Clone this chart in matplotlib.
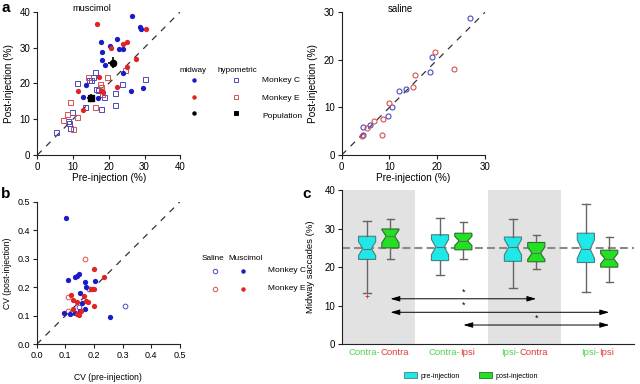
import numpy as np
import matplotlib
matplotlib.use('Agg')
import matplotlib.pyplot as plt
from matplotlib.lines import Line2D
from matplotlib.patches import Patch
import matplotlib.transforms as mtransforms

plt.rcParams['font.family'] = ['Liberation Sans', 'DejaVu Sans']
plt.rcParams['axes.linewidth'] = 0.8
plt.rcParams['axes.edgecolor'] = '#222222'

# ---- panel a, muscimol (pre vs post, %)
mid_c_x = [26.5, 28.8, 29.1, 22.2, 17.8, 20.4, 22.8, 24.0, 18.1, 18.0, 19.0, 23.9, 13.6, 12.9, 17.1, 26.3, 29.7]
mid_c_y = [38.7, 35.6, 35.1, 32.3, 31.6, 30.4, 29.6, 29.5, 28.7, 26.5, 25.0, 22.9, 19.6, 16.3, 15.8, 17.8, 18.6]
mid_e_x = [16.6, 20.6, 24.1, 25.2, 30.4, 27.7, 25.0, 11.3, 17.3, 17.9, 18.5, 22.2, 12.9]
mid_e_y = [36.6, 30.0, 31.0, 31.5, 35.2, 26.7, 24.5, 17.9, 21.7, 17.9, 17.6, 19.1, 12.7]
hyp_c_x = [16.2, 15.5, 14.95, 14.4, 11.0, 17.1, 18.7, 17.9, 21.8, 21.8, 23.7, 30.2, 13.4, 9.7, 8.6, 8.8, 9.2, 5.2, 16.5]
hyp_c_y = [23.3, 21.9, 20.9, 20.9, 20.0, 18.1, 16.3, 12.8, 17.4, 14.0, 19.9, 21.1, 13.3, 11.9, 9.6, 8.8, 7.6, 6.5, 18.5]
hyp_e_x = [14.3, 19.6, 17.6, 17.8, 16.2, 9.2, 8.2, 11.0, 7.1, 9.9, 24.5, 18.0]
hyp_e_y = [21.9, 21.9, 19.8, 18.9, 13.3, 14.7, 11.5, 10.7, 9.8, 7.2, 23.8, 17.0]
pop_mid = [21.1, 25.8]
pop_mid_err = [1.2, 1.5]
pop_hyp = [15.0, 15.9]
pop_hyp_err = [1.0, 1.1]

# ---- panel a, saline
sal_c_x = [26.9, 18.9, 18.4, 11.9, 13.4, 10.5, 9.6, 5.9, 4.4, 4.5]
sal_c_y = [28.7, 20.7, 17.4, 13.5, 13.9, 10.0, 8.3, 6.3, 5.9, 4.3]
sal_e_x = [19.5, 15.4, 23.6, 14.9, 9.8, 8.7, 6.7, 5.4, 8.4, 4.2]
sal_e_y = [21.6, 16.9, 18.0, 14.2, 10.9, 7.6, 7.1, 5.7, 4.3, 4.0]

# ---- panel b, CV
cv_mus_c_x = [0.102, 0.110, 0.135, 0.142, 0.149, 0.167, 0.151, 0.172, 0.203, 0.159, 0.170, 0.151, 0.134, 0.095, 0.256, 0.116]
cv_mus_c_y = [0.444, 0.225, 0.235, 0.240, 0.246, 0.217, 0.179, 0.202, 0.222, 0.146, 0.123, 0.117, 0.111, 0.111, 0.097, 0.106]
cv_mus_e_x = [0.201, 0.236, 0.194, 0.201, 0.121, 0.126, 0.142, 0.166, 0.171, 0.178, 0.201, 0.128, 0.142, 0.148, 0.155, 0.188]
cv_mus_e_y = [0.264, 0.235, 0.195, 0.195, 0.172, 0.155, 0.147, 0.171, 0.152, 0.150, 0.134, 0.123, 0.106, 0.103, 0.117, 0.194]
cv_sal_c_x = [0.309, 0.149, 0.120, 0.181]
cv_sal_c_y = [0.136, 0.132, 0.109, 0.193]
cv_sal_e_x = [0.167, 0.109, 0.110]
cv_sal_e_y = [0.298, 0.167, 0.117]

# ---- panel c, midway saccades (%)
groups_first = ['Contra', 'Contra', 'Ipsi', 'Ipsi']
groups_second = ['Contra', 'Ipsi', 'Contra', 'Ipsi']
pre_hi = [31.9, 32.7, 32.5, 36.3]
pre_q3 = [28.0, 28.4, 27.8, 28.8]
pre_med = [24.8, 25.2, 25.2, 24.7]
pre_q1 = [22.0, 21.7, 21.5, 21.2]
pre_lo = [13.2, 18.0, 14.5, 13.5]
pre_ci = [1.8, 2.0, 2.0, 2.4]
pre_fliers = [[12.4], [], [], []]
post_hi = [32.4, 31.8, 28.4, 27.7]
post_q3 = [29.9, 28.8, 26.4, 24.4]
post_med = [28.0, 26.8, 23.6, 22.2]
post_q1 = [25.0, 24.5, 21.4, 20.0]
post_lo = [22.2, 22.2, 19.6, 16.2]
post_ci = [1.7, 1.2, 1.6, 1.35]
cmp_from = [1, 1, 2]
cmp_to = [3, 4, 4]
cmp_y = [11.8, 8.3, 5.0]
star_group = [2, 2, 3]

BLUE = '#1a1ac8'
RED = '#e02424'
BLUE_O = '#4a4ac4'
RED_O = '#d85050'
CYAN = '#1ee8e8'
GREEN = '#22e022'
TXT_G = '#4fd24f'
TXT_R = '#e03a3a'

W, H = 640, 384
def fx(x):
    return x / W
def fy(y):
    return 1 - y / H

fig = plt.figure(figsize=(6.4, 3.84), dpi=100)

def style(ax, size=7):
    ax.spines['top'].set_visible(False)
    ax.spines['right'].set_visible(False)
    ax.tick_params(direction='out', length=3, width=0.8, labelsize=size, pad=2, color='#222222')

# ===== a: muscimol
axA = fig.add_axes([fx(37.3), fy(155), 143 / W, 143.3 / H])
style(axA)
axA.plot([0, 40], [0, 40], color='#333333', lw=0.9, ls=(0, (5, 5)), zorder=1)
axA.plot(hyp_c_x, hyp_c_y, 's', mfc='none', mec=BLUE_O, ms=3.6, mew=0.7, zorder=2)
axA.plot(hyp_e_x, hyp_e_y, 's', mfc='none', mec=RED_O, ms=3.6, mew=0.7, zorder=2)
axA.plot(mid_c_x, mid_c_y, 'o', color=BLUE, ms=3.8, mec='none', zorder=3)
axA.plot(mid_e_x, mid_e_y, 'o', color=RED, ms=3.8, mec='none', zorder=3)
axA.errorbar([pop_mid[0]], [pop_mid[1]], xerr=[pop_mid_err[0]], yerr=[pop_mid_err[1]],
             fmt='o', color='k', ms=4.5, elinewidth=1.2, capsize=0, zorder=4)
axA.errorbar([pop_hyp[0]], [pop_hyp[1]], xerr=[pop_hyp_err[0]], yerr=[pop_hyp_err[1]],
             fmt='s', color='k', ms=4.5, elinewidth=1.2, capsize=0, zorder=4)
axA.set_xlim(0, 40)
axA.set_ylim(0, 40)
axA.set_xticks([0, 10, 20, 30, 40])
axA.set_yticks([0, 10, 20, 30, 40])
axA.set_xlabel('Pre-injection (%)', fontsize=7.2, labelpad=1)
axA.set_ylabel('Post-injection (%)', fontsize=7.2, labelpad=4)
axA.text(0.38, 1.025, 'muscimol', transform=axA.transAxes, ha='center', va='center', fontsize=6.6)

# legend a
fig.text(fx(193), fy(70), 'midway', ha='center', va='center', fontsize=5.8)
fig.text(fx(237), fy(70), 'hypometric', ha='center', va='center', fontsize=5.9)
for col, mk, mfc in [(194, 'o', True), (236, 's', False)]:
    for row, c in zip([80, 97, 113], [BLUE, RED, 'k']):
        if c != 'k' and not mfc:
            c = BLUE_O if c == BLUE else RED_O
        fig.add_artist(Line2D([fx(col)], [fy(row)], transform=fig.transFigure, marker=mk,
                              ms=3.2 if mk == 'o' else 3.4,
                              mfc=c if (mfc or c == 'k') else 'none', mec=c if not mfc else 'none', mew=0.7))
for row, lab in zip([81, 98, 116], ['Monkey C', 'Monkey E', 'Population']):
    fig.text(fx(262), fy(row), lab, ha='left', va='center', fontsize=6)

# ===== a: saline
axS = fig.add_axes([fx(341.7), fy(155), 143.3 / W, 142.7 / H])
style(axS)
axS.plot([0, 30], [0, 30], color='#333333', lw=0.9, ls=(0, (5, 5)), zorder=1)
axS.plot(sal_c_x, sal_c_y, 'o', mfc='none', mec=BLUE_O, ms=3.6, mew=0.8, zorder=2)
axS.plot(sal_e_x, sal_e_y, 'o', mfc='none', mec=RED_O, ms=3.6, mew=0.8, zorder=2)
axS.set_xlim(0, 30)
axS.set_ylim(0, 30)
axS.set_xticks([0, 10, 20, 30])
axS.set_yticks([0, 10, 20, 30])
axS.set_xlabel('Pre-injection (%)', fontsize=7.2, labelpad=1)
axS.set_ylabel('Post-injection (%)', fontsize=7.2, labelpad=4)
axS.text(0.41, 1.02, 'saline', transform=axS.transAxes, ha='center', va='center', fontsize=6.9)

# ===== b: CV
axB = fig.add_axes([fx(36.7), fy(344.3), 143.3 / W, 142.6 / H])
style(axB, 6.5)
axB.plot([0, 0.5], [0, 0.5], color='#333333', lw=0.9, ls=(0, (5, 5)), zorder=1)
axB.plot(cv_sal_c_x, cv_sal_c_y, 'o', mfc='none', mec=BLUE_O, ms=3.4, mew=0.7, zorder=2)
axB.plot(cv_sal_e_x, cv_sal_e_y, 'o', mfc='none', mec=RED_O, ms=3.4, mew=0.7, zorder=2)
axB.plot(cv_mus_c_x, cv_mus_c_y, 'o', color=BLUE, ms=3.8, mec='none', zorder=3)
axB.plot(cv_mus_e_x, cv_mus_e_y, 'o', color=RED, ms=3.8, mec='none', zorder=3)
axB.set_xlim(0, 0.5)
axB.set_ylim(0, 0.5)
axB.set_xticks([0, 0.1, 0.2, 0.3, 0.4, 0.5])
axB.set_yticks([0, 0.1, 0.2, 0.3, 0.4, 0.5])
axB.xaxis.set_major_formatter('{x:.1f}')
axB.yaxis.set_major_formatter('{x:.1f}')
axB.set_xlabel('CV (pre-injection)', fontsize=6.2, labelpad=9)
axB.set_ylabel('CV (post-injection)', fontsize=6.2, labelpad=4)

# legend b
fig.text(fx(212.7), fy(259), 'Saline', ha='center', va='center', fontsize=5.9)
fig.text(fx(245.7), fy(259), 'Muscimol', ha='center', va='center', fontsize=5.9)
for row, c, co in [(271, BLUE, BLUE_O), (289, RED, RED_O)]:
    fig.add_artist(Line2D([fx(215)], [fy(row)], transform=fig.transFigure, marker='o', ms=3.2,
                          mfc='none', mec=co, mew=0.7))
    fig.add_artist(Line2D([fx(243.3)], [fy(row)], transform=fig.transFigure, marker='o', ms=3.2,
                          mfc=c, mec='none'))
for row, lab in zip([271, 289], ['Monkey C', 'Monkey E']):
    fig.text(fx(267.7), fy(row), lab, ha='left', va='center', fontsize=6)

# ===== c: boxplots
axC = fig.add_axes([fx(342.3), fy(344.3), 291.7 / W, 154.3 / H])
style(axC)
axC.spines['bottom'].set_color('#222222')
ng = len(pre_med)
pos = np.arange(1, ng + 1)
off = 0.16
for g in pos[::2]:
    axC.axvspan(g - 0.5, g + 0.5, color='#e2e2e2', lw=0, zorder=0)
axC.axhline(25, color='#8a8a8a', lw=1.5, ls=(0, (3.8, 2)), zorder=1)

def stats(hi, q3, med, q1, lo, ci, fl):
    return [dict(med=med[i], q1=q1[i], q3=q3[i], whislo=lo[i], whishi=hi[i],
                 cilo=med[i] - ci[i], cihi=med[i] + ci[i], fliers=fl[i]) for i in range(len(med))]

common = dict(widths=0.235, shownotches=True, patch_artist=True, manage_ticks=False,
              whiskerprops=dict(color='#666666', lw=1.0), capprops=dict(color='#666666', lw=1.0),
              medianprops=dict(color='#6a6a6a', lw=0.8),
              flierprops=dict(marker='+', markeredgecolor=RED, ms=3, mew=0.6),
              capwidths=0.1, zorder=2)
axC.bxp(stats(pre_hi, pre_q3, pre_med, pre_q1, pre_lo, pre_ci, pre_fliers), positions=pos - off,
        boxprops=dict(facecolor=CYAN, edgecolor='#4a7f7f', lw=0.8), **common)
axC.bxp(stats(post_hi, post_q3, post_med, post_q1, post_lo, post_ci, [[]] * ng), positions=pos + off,
        boxprops=dict(facecolor=GREEN, edgecolor='#2e6e2e', lw=0.8), **common)

for a, b, y, s in zip(cmp_from, cmp_to, cmp_y, star_group):
    axC.annotate('', xy=(b + off, y), xytext=(a + off, y),
                 arrowprops=dict(arrowstyle='<|-|>,head_length=0.55,head_width=0.16', color='k',
                                 lw=0.7, shrinkA=0, shrinkB=0, mutation_scale=10))
    axC.text(s + off, y + 0.6, '*', ha='center', va='bottom', fontsize=6.5)

axC.set_xlim(0.5, ng + 0.5)
axC.set_ylim(0, 40)
axC.set_xticks([])
axC.set_yticks([0, 10, 20, 30, 40])
axC.set_ylabel('Midway saccades (%)', fontsize=6.8, labelpad=7)

# two-colour group labels
fig.canvas.draw()
rend = fig.canvas.get_renderer()
base = mtransforms.blended_transform_factory(axC.transData, axC.transAxes)
for g, a, b in zip(pos, groups_first, groups_second):
    t1 = axC.text(g, -0.052, a + '-', color=TXT_G, fontsize=6.8, ha='left', va='center', transform=base)
    t2 = axC.text(g, -0.052, b, color=TXT_R, fontsize=6.8, ha='left', va='center', transform=base)
    w1 = t1.get_window_extent(rend).width
    w2 = t2.get_window_extent(rend).width
    t1.set_transform(mtransforms.offset_copy(base, fig=fig, x=-(w1 + w2) / 2, y=0, units='dots'))
    t2.set_transform(mtransforms.offset_copy(base, fig=fig, x=w1 - (w1 + w2) / 2, y=0, units='dots'))

fig.legend(handles=[Patch(facecolor=CYAN, edgecolor='#4a7f7f', lw=0.6, label='pre-injection'),
                    Patch(facecolor=GREEN, edgecolor='#2e6e2e', lw=0.6, label='post-injection')],
           loc='center', bbox_to_anchor=(fx(471), fy(376)), ncol=2, frameon=False, fontsize=5.2,
           handlelength=1.8, handleheight=0.8, handletextpad=0.5, columnspacing=2.6)

# panel letters
fig.text(fx(6), fy(8), 'a', fontsize=11, fontweight='bold', ha='center', va='center')
fig.text(fx(6), fy(194), 'b', fontsize=11, fontweight='bold', ha='center', va='center')
fig.text(fx(307), fy(194), 'c', fontsize=11, fontweight='bold', ha='center', va='center')

fig.savefig('out.png', dpi=100)
